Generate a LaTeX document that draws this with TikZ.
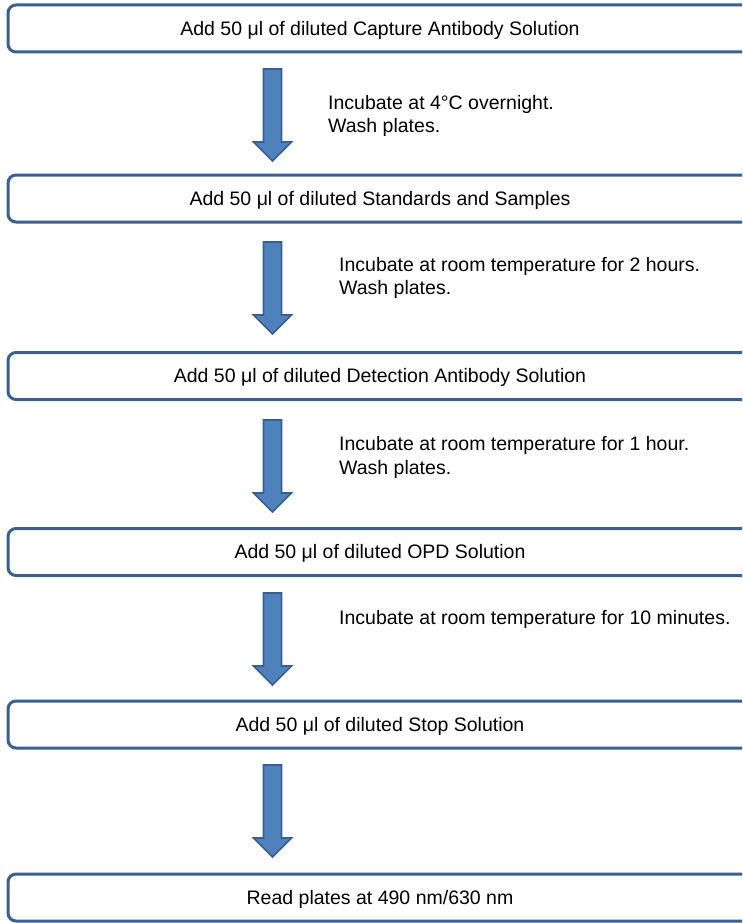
\documentclass[tikz,border=0pt]{standalone}
\usepackage{fontspec}
\setmainfont{Liberation Sans}
\definecolor{boxline}{HTML}{3B6090}
\definecolor{arrowfill}{HTML}{4F81BD}
\definecolor{arrowline}{HTML}{3A5F8F}
\tikzset{
  stepbox/.style={draw=boxline, line width=3pt, rounded corners=8pt, fill=white,
    minimum width=744pt, minimum height=47pt, inner sep=0pt,
    text height=13.8pt, text depth=0pt, font=\fontsize{19.5}{23}\selectfont},
  notetext/.style={anchor=base west, inner sep=0pt, font=\fontsize{19.5}{23}\selectfont},
  blockarrow/.style={fill=arrowfill, draw=arrowline, line width=1.6pt, line join=miter},
  pics/downarrow/.style={code={
    \draw[blockarrow] (263.5,#1) -- (281.5,#1) -- (281.5,#1+73) -- (291.5,#1+73)
      -- (272.5,#1+92) -- (253.5,#1+73) -- (263.5,#1+73) -- cycle;
  }}
}
\begin{document}
\begin{tikzpicture}[x=1pt,y=-1pt]
\useasboundingbox (0,0) rectangle (742,923);
\clip (0,0) rectangle (742,923);
\fill[white] (0,0) rectangle (742,923);

\node[stepbox] (b1) at (380,28.5) {Add 50 μl of diluted Capture Antibody Solution};
\node[stepbox] (b2) at (380,198.5) {Add 50 μl of diluted Standards and Samples};
\node[stepbox] (b3) at (380,376) {Add 50 μl of diluted Detection Antibody Solution};
\node[stepbox] (b4) at (380,552) {Add 50 μl of diluted OPD Solution};
\node[stepbox] (b5) at (380,724.5) {Add 50 μl of diluted Stop Solution};
\node[stepbox] (b6) at (380,897.5) {Read plates at 490 nm/630 nm};

\pic {downarrow=69};
\pic {downarrow=242};
\pic {downarrow=420};
\pic {downarrow=593};
\pic {downarrow=765};

\node[notetext] (n1a) at (328,110) {Incubate at 4°C overnight.};
\node[notetext] (n1b) at (328,132) {Wash plates.};
\node[notetext] (n2a) at (339,271) {Incubate at room temperature for 2 hours.};
\node[notetext] (n2b) at (339,294) {Wash plates.};
\node[notetext] (n3a) at (339,450) {Incubate at room temperature for 1 hour.};
\node[notetext] (n3b) at (339,474) {Wash plates.};
\node[notetext] (n4a) at (339,624) {Incubate at room temperature for 10 minutes.};
\end{tikzpicture}
\end{document}
